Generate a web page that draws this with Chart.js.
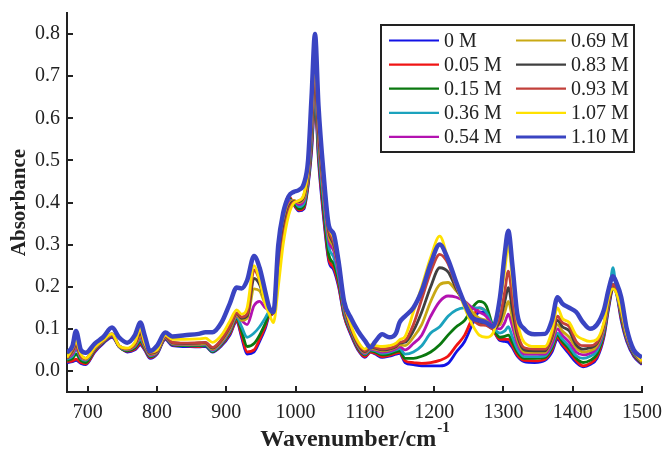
<!DOCTYPE html>
<html>
<head>
<meta charset="utf-8">
<script src="https://cdn.jsdelivr.net/npm/chart.js@4.4.0/dist/chart.umd.min.js"></script>
<style>
    html, body { margin: 0; padding: 0; background: #fff; }
    #wrap { width: 671px; height: 453px; }
</style>
</head>
<body>
<div id="wrap"><canvas id="irChart" width="671" height="453"></canvas></div>
<script>
// Hullámszámok (cm-1)
const wavenumbers = [
    670, 678, 683, 690, 697, 710, 722, 735, 745, 757,
    768, 776, 782, 790, 800, 812, 822, 840, 860, 870,
    880, 893, 905, 915, 922, 930, 940, 948, 956, 962,
    968, 975, 982, 990, 997, 1005, 1012, 1018, 1023, 1028,
    1033, 1040, 1048, 1055, 1062, 1070, 1080, 1090, 1100, 1108,
    1115, 1125, 1135, 1145, 1150, 1158, 1170, 1182, 1195, 1208,
    1220, 1232, 1244, 1255, 1265, 1275, 1285, 1295, 1302, 1307,
    1313, 1320, 1330, 1345, 1360, 1370, 1378, 1385, 1395, 1405,
    1415, 1425, 1435, 1445, 1452, 1458, 1463, 1470, 1478, 1488,
    1500
];

const seriesLabels = ['0 M', '0.05 M', '0.15 M', '0.36 M', '0.54 M', '0.69 M', '0.83 M', '0.93 M', '1.07 M', '1.10 M'];
const seriesColors = ['#1212e6', '#f01414', '#0a780f', '#1ba2bd', '#b312b0', '#c9a914', '#404040', '#c2403a', '#ffe100', '#3a44c2'];

const xTickValues = [700, 800, 900, 1000, 1100, 1200, 1300, 1400, 1500];
const yTickValues = [0, 0.1, 0.2, 0.3, 0.4, 0.5, 0.6, 0.7, 0.8];

// Abszorbancia értékek koncentrációnként
const abs0 = [
    .020, .022, .025, .018, .015, .045, .065, .080, .060, .045,
    .050, .062, .050, .030, .040, .075, .060, .058, .057, .058,
    .045, .060, .085, .118, .080, .040, .045, .070, .100, .130,
    .140, .280, .360, .405, .395, .380, .385, .440, .520, .640,
    .500, .370, .260, .240, .200, .130, .085, .050, .032, .045,
    .040, .032, .035, .040, .042, .020, .015, .012, .012, .012,
    .018, .045, .070, .110, .140, .135, .100, .072, .070, .068,
    .055, .035, .022, .020, .025, .045, .075, .060, .040, .020,
    .010, .015, .030, .080, .150, .195, .185, .120, .070, .035,
    .015
];
const abs005 = [
    .022, .024, .028, .020, .017, .047, .067, .082, .058, .047,
    .052, .065, .052, .032, .042, .077, .062, .060, .058, .060,
    .046, .062, .088, .120, .085, .045, .050, .075, .105, .132,
    .140, .290, .370, .415, .398, .382, .388, .445, .530, .650,
    .510, .380, .265, .245, .205, .132, .088, .052, .034, .045,
    .042, .034, .037, .042, .044, .024, .020, .018, .020, .025,
    .035, .060, .085, .125, .150, .140, .100, .075, .075, .075,
    .060, .038, .025, .024, .028, .050, .080, .064, .045, .025,
    .012, .018, .034, .085, .155, .198, .188, .125, .074, .038,
    .017
];
const abs015 = [
    .025, .030, .040, .025, .020, .050, .068, .084, .058, .048,
    .055, .070, .055, .034, .043, .078, .063, .060, .060, .060,
    .046, .064, .092, .125, .095, .058, .065, .085, .112, .135,
    .140, .280, .365, .410, .400, .385, .392, .450, .540, .660,
    .520, .395, .275, .255, .215, .138, .092, .055, .038, .048,
    .045, .038, .040, .046, .048, .030, .030, .035, .045, .062,
    .085, .105, .120, .150, .165, .155, .105, .080, .082, .085,
    .068, .045, .030, .030, .032, .055, .085, .070, .052, .030,
    .020, .025, .040, .090, .158, .200, .190, .130, .076, .040,
    .018
];
const abs036 = [
    .028, .035, .050, .030, .025, .052, .069, .085, .058, .050,
    .058, .075, .058, .036, .044, .079, .064, .062, .062, .062,
    .048, .066, .095, .128, .105, .080, .090, .105, .125, .140,
    .140, .265, .355, .405, .405, .390, .398, .455, .550, .675,
    .530, .410, .295, .270, .225, .142, .095, .058, .040, .050,
    .048, .042, .044, .050, .053, .040, .045, .060, .090, .105,
    .130, .145, .150, .150, .150, .140, .105, .090, .095, .105,
    .080, .052, .034, .034, .036, .060, .090, .076, .058, .036,
    .030, .035, .048, .095, .165, .245, .190, .135, .078, .042,
    .020
];
const abs054 = [
    .030, .040, .055, .032, .027, .053, .070, .086, .059, .051,
    .060, .080, .060, .038, .045, .080, .065, .063, .063, .064,
    .050, .068, .098, .130, .120, .110, .155, .165, .150, .145,
    .140, .255, .345, .398, .405, .395, .405, .460, .560, .690,
    .545, .425, .310, .285, .235, .148, .098, .060, .042, .052,
    .050, .045, .047, .053, .058, .050, .065, .085, .130, .165,
    .178, .175, .165, .150, .140, .130, .105, .100, .115, .135,
    .105, .065, .040, .040, .040, .065, .100, .085, .068, .045,
    .038, .042, .055, .100, .165, .205, .190, .138, .080, .044,
    .020
];
const abs069 = [
    .030, .045, .060, .035, .028, .054, .071, .087, .060, .052,
    .062, .085, .062, .040, .046, .081, .066, .064, .064, .065,
    .052, .070, .100, .133, .120, .125, .195, .190, .160, .148,
    .138, .240, .335, .390, .405, .400, .410, .465, .570, .700,
    .555, .435, .320, .295, .245, .152, .100, .062, .044, .054,
    .052, .048, .050, .056, .062, .060, .080, .110, .165, .205,
    .210, .190, .165, .140, .125, .120, .105, .110, .140, .165,
    .125, .075, .045, .044, .044, .075, .110, .095, .080, .055,
    .045, .048, .060, .105, .168, .205, .192, .140, .082, .045,
    .021
];
const abs083 = [
    .030, .048, .062, .036, .030, .055, .072, .088, .060, .053,
    .064, .090, .064, .042, .047, .082, .067, .065, .066, .067,
    .054, .073, .104, .136, .125, .130, .220, .205, .165, .150,
    .137, .230, .325, .385, .402, .402, .415, .470, .580, .710,
    .565, .445, .330, .300, .250, .156, .102, .064, .046, .056,
    .054, .050, .052, .058, .066, .068, .095, .140, .200, .245,
    .235, .195, .160, .130, .112, .110, .100, .120, .165, .198,
    .145, .085, .050, .048, .048, .080, .120, .105, .095, .062,
    .052, .055, .065, .110, .170, .205, .192, .142, .084, .046,
    .022
];
const abs093 = [
    .030, .050, .065, .036, .030, .055, .072, .088, .060, .053,
    .065, .095, .065, .043, .048, .083, .068, .066, .067, .068,
    .056, .075, .106, .138, .128, .135, .240, .215, .168, .150,
    .136, .220, .315, .380, .400, .404, .418, .475, .590, .720,
    .575, .450, .335, .305, .255, .160, .104, .066, .048, .058,
    .056, .052, .054, .060, .068, .072, .110, .170, .235, .277,
    .255, .200, .160, .125, .110, .108, .100, .130, .190, .237,
    .170, .095, .055, .052, .052, .085, .130, .115, .105, .070,
    .060, .060, .068, .112, .172, .205, .193, .144, .085, .047,
    .022
];
const abs107 = [
    .032, .055, .070, .040, .030, .056, .073, .088, .060, .054,
    .068, .100, .068, .045, .050, .085, .075, .075, .076, .078,
    .068, .085, .118, .145, .135, .150, .250, .215, .160, .135,
    .115, .200, .300, .370, .398, .405, .420, .480, .610, .750,
    .600, .460, .345, .315, .265, .165, .108, .070, .052, .062,
    .060, .058, .060, .066, .074, .082, .140, .200, .270, .320,
    .265, .205, .150, .110, .085, .080, .090, .160, .240, .297,
    .215, .120, .068, .058, .058, .095, .150, .125, .115, .085,
    .075, .070, .075, .115, .175, .195, .185, .145, .086, .048,
    .023
];
const abs110 = [
    .043, .060, .095, .050, .043, .065, .080, .103, .080, .067,
    .085, .115, .085, .047, .060, .091, .082, .085, .088, .092,
    .092, .115, .160, .198, .196, .215, .273, .245, .190, .150,
    .140, .300, .375, .415, .425, .430, .445, .500, .650, .800,
    .630, .475, .345, .325, .260, .165, .125, .095, .072, .056,
    .070, .087, .080, .090, .115, .130, .150, .190, .255, .300,
    .265, .210, .160, .125, .120, .115, .105, .175, .280, .333,
    .250, .135, .100, .087, .088, .120, .175, .160, .150, .140,
    .115, .100, .110, .145, .195, .225, .210, .175, .100, .050,
    .032
];

const allSeries = [abs0, abs005, abs015, abs036, abs054, abs069, abs083, abs093, abs107, abs110];

const serif = "'Liberation Serif', 'Times New Roman', serif";
const ink = '#222222';

// Befelé mutató osztásjelek, tengelycímek és jelmagyarázat
const decorPlugin = {
    id: 'decor',
    afterDraw(chart) {
        const ctx = chart.ctx;
        const area = chart.chartArea;
        const xs = chart.scales.x;
        const ys = chart.scales.y;

        ctx.save();
        ctx.strokeStyle = ink;
        ctx.lineWidth = 2;
        xTickValues.forEach(v => {
            const px = Math.round(xs.getPixelForValue(v));
            ctx.beginPath();
            ctx.moveTo(px, area.bottom);
            ctx.lineTo(px, area.bottom - 6);
            ctx.stroke();
        });
        yTickValues.forEach(v => {
            const py = Math.round(ys.getPixelForValue(v));
            ctx.beginPath();
            ctx.moveTo(area.left, py);
            ctx.lineTo(area.left + 6, py);
            ctx.stroke();
        });

        // y tengely címe
        ctx.fillStyle = ink;
        ctx.font = 'bold 21px ' + serif;
        ctx.textAlign = 'center';
        ctx.textBaseline = 'middle';
        ctx.save();
        ctx.translate(20, (area.top + area.bottom) / 2);
        ctx.rotate(-Math.PI / 2);
        ctx.fillText('Absorbance', 0, 0);
        ctx.restore();

        // x tengely címe felső indexszel
        const mainText = 'Wavenumber/cm';
        const supText = '-1';
        ctx.font = 'bold 24px ' + serif;
        const w1 = ctx.measureText(mainText).width;
        ctx.font = 'bold 15px ' + serif;
        const w2 = ctx.measureText(supText).width;
        const startX = (area.left + area.right) / 2 - (w1 + w2) / 2;
        ctx.textAlign = 'left';
        ctx.textBaseline = 'alphabetic';
        ctx.font = 'bold 24px ' + serif;
        ctx.fillText(mainText, startX, 446);
        ctx.font = 'bold 15px ' + serif;
        ctx.fillText(supText, startX + w1 + 1, 432);

        // Jelmagyarázat
        const box = { x: 381, y: 25, w: 253, h: 127 };
        ctx.fillStyle = '#ffffff';
        ctx.fillRect(box.x, box.y, box.w, box.h);
        ctx.strokeStyle = ink;
        ctx.lineWidth = 2;
        ctx.strokeRect(box.x, box.y, box.w, box.h);
        ctx.font = '20px ' + serif;
        ctx.textBaseline = 'middle';
        seriesLabels.forEach((label, i) => {
            const col = Math.floor(i / 5);
            const row = i % 5;
            const lx = col === 0 ? 389 : 516;
            const ly = 40.5 + row * 24.1;
            ctx.strokeStyle = seriesColors[i];
            ctx.lineWidth = i === 9 ? 3 : 2.2;
            ctx.beginPath();
            ctx.moveTo(lx, ly);
            ctx.lineTo(lx + 50, ly);
            ctx.stroke();
            ctx.fillStyle = ink;
            ctx.fillText(label, lx + 55, ly + 1);
        });
        ctx.restore();
    }
};

const ctx = document.getElementById('irChart').getContext('2d');
const irChart = new Chart(ctx, {
    type: 'line',
    data: {
        datasets: allSeries.map((arr, i) => ({
            label: seriesLabels[i],
            data: wavenumbers.map((w, j) => ({ x: w, y: arr[j] })),
            borderColor: seriesColors[i],
            borderWidth: i === 9 ? 4.5 : 2.8,
            pointRadius: 0,
            fill: false,
            cubicInterpolationMode: 'monotone',
            order: 9 - i
        }))
    },
    options: {
        responsive: false,
        animation: false,
        devicePixelRatio: 1,
        layout: { padding: { top: 13, right: 22, left: 0, bottom: 0 } },
        plugins: {
            legend: { display: false },
            tooltip: { enabled: false }
        },
        scales: {
            x: {
                type: 'linear',
                min: 670,
                max: 1500,
                grid: { display: false, drawTicks: false },
                border: { display: true, color: ink, width: 2 },
                afterBuildTicks: scale => { scale.ticks = xTickValues.map(v => ({ value: v })); },
                afterFit: scale => { scale.height = 61; },
                ticks: {
                    color: ink,
                    padding: 9,
                    maxRotation: 0,
                    font: { family: serif, size: 20 },
                    callback: v => String(v)
                }
            },
            y: {
                type: 'linear',
                min: -0.05,
                max: 0.85,
                grid: { display: false, drawTicks: false },
                border: { display: true, color: ink, width: 2 },
                afterBuildTicks: scale => { scale.ticks = yTickValues.map(v => ({ value: v })); },
                afterFit: scale => {
                    scale.width = 67;
                    scale.paddingTop = 0;
                    scale.paddingBottom = 0;
                },
                ticks: {
                    color: ink,
                    padding: 7,
                    font: { family: serif, size: 20 },
                    callback: v => Number(v).toFixed(1)
                }
            }
        }
    },
    plugins: [decorPlugin]
});
</script>
</body>
</html>
